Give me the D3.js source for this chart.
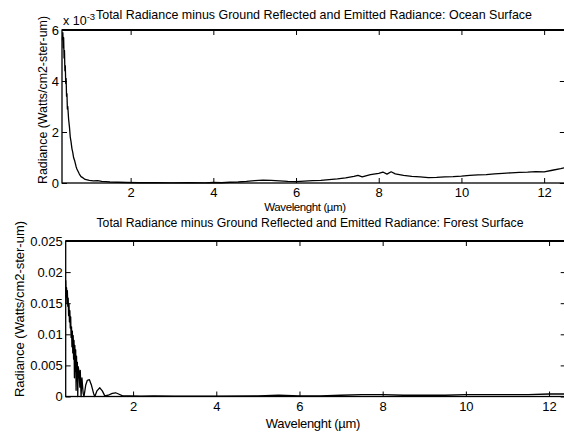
<!DOCTYPE html>
<html><head><meta charset="utf-8">
<script src="https://cdn.jsdelivr.net/npm/d3@7"></script>
<style>
body{margin:0;background:#fff;}
svg{display:block;}
text{font-family:"Liberation Sans",Arial,sans-serif;fill:#000;}
</style></head>
<body>
<svg id="c" width="564" height="435"></svg>
<script>
// ---- Data ----
const oceanWl = [0.35,0.36,0.37,0.38,0.39,0.40,0.41,0.42,0.43,0.44,0.45,0.46,0.47,0.48,0.50,0.52,0.54,0.56,0.58,0.60,0.62,0.65,0.68,0.70,0.73,0.76,0.80,0.85,0.90,0.95,1.0,1.1,1.2,1.3,1.4,1.5,1.7,1.9,2.2,2.6,3.0,3.4,3.8,4.0,4.2,4.4,4.6,4.8,5.0,5.2,5.4,5.6,5.8,6.0,6.2,6.4,6.6,6.8,7.0,7.2,7.4,7.5,7.6,7.8,8.0,8.1,8.2,8.3,8.4,8.6,8.8,9.0,9.2,9.4,9.6,9.8,10.0,10.2,10.4,10.6,10.8,11.0,11.2,11.4,11.6,11.8,12.0,12.2,12.4,12.5];
const oceanRad = [5.6,5.9,5.3,5.7,4.9,5.2,4.4,4.6,3.9,4.1,3.4,3.5,2.9,3.0,2.5,2.2,1.8,1.6,1.35,1.2,1.0,0.85,0.65,0.55,0.45,0.35,0.25,0.2,0.14,0.12,0.1,0.08,0.09,0.06,0.05,0.04,0.03,0.02,0.01,0.01,0.005,0.01,0.005,0.02,0.01,0.03,0.04,0.06,0.09,0.11,0.10,0.08,0.06,0.05,0.07,0.09,0.10,0.13,0.16,0.20,0.26,0.30,0.24,0.33,0.38,0.43,0.35,0.44,0.36,0.30,0.26,0.24,0.21,0.22,0.24,0.25,0.27,0.30,0.32,0.33,0.36,0.38,0.40,0.42,0.43,0.45,0.44,0.50,0.56,0.60];

const forestWl = [0.38,0.39,0.40,0.41,0.42,0.43,0.44,0.45,0.46,0.47,0.48,0.49,0.50,0.51,0.52,0.53,0.54,0.55,0.56,0.57,0.58,0.59,0.60,0.61,0.62,0.63,0.64,0.65,0.66,0.67,0.68,0.70,0.72,0.73,0.75,0.77,0.80,0.82,0.86,0.90,0.95,1.00,1.05,1.08,1.13,1.20,1.26,1.32,1.40,1.50,1.58,1.65,1.75,1.9,2.2,2.5,3.0,4.0,5.0,5.5,6.0,6.5,7.0,7.5,8.0,8.5,9.0,9.5,10.0,10.5,11.0,11.5,12.0,12.4];
const forestRad = [0.0187,0.0160,0.0175,0.0150,0.0170,0.0145,0.0158,0.0130,0.0148,0.0120,0.0138,0.0110,0.0128,0.0095,0.0112,0.0080,0.0105,0.0070,0.0098,0.0060,0.0090,0.0030,0.0082,0.0040,0.0075,0.0010,0.0065,0.0025,0.0055,0.0000,0.0048,0.0040,0.0015,0.0042,0.0000,0.0030,0.0005,0.0000,0.0018,0.0026,0.0027,0.0018,0.0005,0.0000,0.0009,0.0014,0.0009,0.0001,0.0002,0.0005,0.0006,0.0004,0.0001,0.0001,0.00005,0.0001,0.00005,0.00005,0.0001,0.0002,0.0001,0.0001,0.0002,0.0003,0.0003,0.0002,0.0002,0.0002,0.0003,0.0003,0.0003,0.0003,0.0004,0.0004];

const xTicks = [2,4,6,8,10,12];
const oceanYTicks = [0,2,4,6];
const forestYTicks = [0,0.005,0.01,0.015,0.02,0.025];
const forestYLabels = ["0","0.005","0.01","0.015","0.02","0.025"];

const svg = d3.select("#c");

function panel(o){
  const x = d3.scaleLinear().domain(o.xd).range(o.xr);
  const y = d3.scaleLinear().domain(o.yd).range(o.yr);
  const g = svg.append("g");
  const [x0,x1] = o.xr, [yb,yt] = o.yr;
  g.append("g").attr("transform",`translate(0,${yb})`)
    .call(d3.axisBottom(x).tickValues(xTicks).tickSizeInner(-5).tickSizeOuter(0).tickPadding(5))
    .call(s=>{s.select(".domain").remove();s.selectAll("text").attr("font-size",13);});
  g.append("g").attr("transform",`translate(0,${yt})`)
    .call(d3.axisTop(x).tickValues(xTicks).tickSizeInner(-5).tickSizeOuter(0).tickFormat(""))
    .call(s=>s.select(".domain").remove());
  g.append("g").attr("transform",`translate(${x0},0)`)
    .call(d3.axisLeft(y).tickValues(o.yt).tickSizeInner(-5).tickSizeOuter(0).tickPadding(3).tickFormat((d,i)=>o.yl[i]))
    .call(s=>{s.select(".domain").remove();s.selectAll("text").attr("font-size",13);});
  g.append("g").attr("transform",`translate(${x1},0)`)
    .call(d3.axisRight(y).tickValues(o.yt).tickSizeInner(-5).tickSizeOuter(0).tickFormat(""))
    .call(s=>s.select(".domain").remove());
  g.selectAll(".tick line").attr("stroke","#000").attr("stroke-width",1);
  g.append("rect").attr("x",x0).attr("y",yt).attr("width",x1-x0).attr("height",yb-yt)
    .attr("fill","none").attr("stroke","#000").attr("stroke-width",1.3);
  g.append("line").attr("x1",x0).attr("x2",x1).attr("y1",yt).attr("y2",yt).attr("stroke","#000").attr("stroke-width",2.2);
  const pts = o.wl.map((w,i)=>[w,o.v[i]]);
  g.append("path").datum(pts)
    .attr("d",d3.line().x(d=>x(d[0])).y(d=>y(d[1])))
    .attr("fill","none").attr("stroke","#000").attr("stroke-width",1.3).attr("stroke-linejoin","round");
  return {x,y};
}

panel({xd:[0.34,12.5], xr:[62,564.8], yd:[0,6], yr:[183,30],
  yt:oceanYTicks, yl:oceanYTicks.map(String), wl:oceanWl, v:oceanRad});
panel({xd:[0.38,12.4], xr:[65.7,565.7], yd:[0,0.025], yr:[396.5,241],
  yt:forestYTicks, yl:forestYLabels, wl:forestWl, v:forestRad});

svg.append("text").attr("x",63).attr("y",25).attr("font-size",12.5)
  .html('x 10<tspan dy="-5" font-size="9.5">-3</tspan>');
svg.append("text").attr("x",314).attr("y",19).attr("text-anchor","middle").attr("font-size",13.2)
  .attr("textLength",436).attr("lengthAdjust","spacingAndGlyphs")
  .text("Total Radiance minus Ground Reflected and Emitted Radiance: Ocean Surface");
svg.append("text").attr("x",305).attr("y",211).attr("text-anchor","middle").attr("font-size",11.5).attr("letter-spacing",-0.4)
  .text("Wavelenght (\u00b5m)");
svg.append("text").attr("x",310).attr("y",227).attr("text-anchor","middle").attr("font-size",12.5)
  .attr("textLength",427).attr("lengthAdjust","spacingAndGlyphs")
  .text("Total Radiance minus Ground Reflected and Emitted Radiance: Forest Surface");
svg.append("text").attr("x",313).attr("y",428).attr("text-anchor","middle").attr("font-size",13).attr("letter-spacing",-0.3)
  .text("Wavelenght (\u00b5m)");
svg.append("text").attr("transform","translate(47,100) rotate(-90)").attr("text-anchor","middle").attr("font-size",13)
  .attr("textLength",168).attr("lengthAdjust","spacingAndGlyphs")
  .text("Radiance (Watts/cm2-ster-um)");
svg.append("text").attr("transform","translate(24,309) rotate(-90)").attr("text-anchor","middle").attr("font-size",13)
  .attr("textLength",176).attr("lengthAdjust","spacingAndGlyphs")
  .text("Radiance (Watts/cm2-ster-um)");
</script>
</body></html>
